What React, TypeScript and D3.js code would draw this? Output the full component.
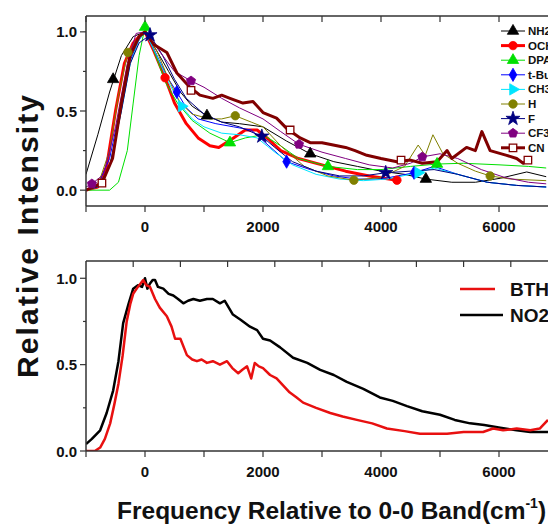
import React from "react";
import * as d3 from "d3";

// ---------- Data (top panel) ----------
const nh2X = [-1000, -800, -600, -400, -200, 0, 200, 400, 600, 800, 1050, 1300, 1600, 2000, 2400, 2800, 3200, 3600, 4000, 4400, 4760, 5200, 5600, 6020, 6470, 6800];
const nh2Y = [0.10, 0.35, 0.62, 0.85, 0.97, 1.0, 0.88, 0.75, 0.62, 0.53, 0.47, 0.43, 0.42, 0.40, 0.31, 0.23, 0.18, 0.15, 0.12, 0.10, 0.07, 0.05, 0.05, 0.075, 0.115, 0.085];
const nh2M = [[-540, 0.70], [1050, 0.47], [2800, 0.23], [4760, 0.07]];

const och3X = [-1000, -800, -650, -500, -350, -200, -100, 0, 150, 340, 500, 700, 900, 1100, 1250, 1500, 1700, 1900, 2100, 2300, 2600, 3000, 3400, 3800, 4270];
const och3Y = [0.0, 0.02, 0.15, 0.50, 0.80, 0.93, 0.97, 1.0, 0.88, 0.71, 0.55, 0.42, 0.33, 0.28, 0.27, 0.33, 0.38, 0.38, 0.32, 0.25, 0.20, 0.16, 0.12, 0.09, 0.063];
const och3M = [[340, 0.71], [4270, 0.063]];

const dpaX = [-1000, -600, -450, -300, -200, -100, 0, 150, 350, 550, 800, 1100, 1440, 1700, 2000, 2300, 2600, 3100, 3600, 4000, 4500, 4950, 5400, 6000, 6500, 6800];
const dpaY = [0.0, 0.0, 0.05, 0.25, 0.55, 0.85, 1.03, 0.88, 0.68, 0.55, 0.44, 0.36, 0.30, 0.33, 0.35, 0.28, 0.20, 0.15, 0.13, 0.13, 0.15, 0.165, 0.17, 0.16, 0.15, 0.14];
const dpaM = [[0, 1.03], [1440, 0.30], [3100, 0.15], [4950, 0.165]];

const tbuX = [-1000, -800, -600, -400, -250, -100, 0, 200, 400, 540, 700, 900, 1200, 1500, 1800, 2100, 2400, 2800, 3200, 3600, 4000, 4560, 4900, 5300, 5800, 6300, 6800];
const tbuY = [0.0, 0.03, 0.20, 0.55, 0.82, 0.95, 1.0, 0.85, 0.70, 0.62, 0.52, 0.45, 0.42, 0.40, 0.38, 0.28, 0.18, 0.13, 0.09, 0.07, 0.07, 0.11, 0.15, 0.10, 0.05, 0.03, 0.02];
const tbuM = [[540, 0.62], [2400, 0.18], [4560, 0.11]];

const ch3X = [-1000, -800, -600, -400, -250, -100, 0, 200, 400, 620, 800, 1000, 1300, 1600, 1900, 2200, 2500, 2900, 3300, 3700, 4100, 4630, 4900, 5300, 5800, 6300, 6800];
const ch3Y = [0.0, 0.02, 0.15, 0.50, 0.80, 0.95, 1.0, 0.85, 0.68, 0.53, 0.45, 0.40, 0.36, 0.35, 0.33, 0.24, 0.16, 0.10, 0.07, 0.06, 0.07, 0.11, 0.14, 0.10, 0.05, 0.03, 0.02];
const ch3M = [[620, 0.53], [4630, 0.11]];

const hX = [-1000, -800, -600, -450, -290, -100, 0, 200, 400, 600, 800, 1100, 1300, 1530, 1800, 2000, 2300, 2700, 3100, 3540, 4000, 4400, 4630, 4750, 4880, 5050, 5300, 5600, 5850, 6200, 6800];
const hY = [0.0, 0.03, 0.25, 0.60, 0.87, 0.97, 1.0, 0.88, 0.70, 0.55, 0.48, 0.45, 0.45, 0.47, 0.43, 0.40, 0.28, 0.15, 0.09, 0.063, 0.08, 0.15, 0.285, 0.22, 0.35, 0.23, 0.17, 0.12, 0.09, 0.07, 0.06];
const hM = [[-290, 0.87], [1530, 0.47], [3540, 0.063], [5850, 0.09]];

const fX = [-1000, -800, -600, -400, -250, -100, 85, 300, 500, 700, 1000, 1300, 1600, 1980, 2200, 2500, 2900, 3300, 3700, 4080, 4500, 4900, 5300, 5800, 6300, 6800];
const fY = [0.0, 0.02, 0.15, 0.50, 0.80, 0.93, 0.98, 0.85, 0.70, 0.58, 0.48, 0.43, 0.40, 0.34, 0.27, 0.18, 0.12, 0.09, 0.09, 0.11, 0.12, 0.13, 0.10, 0.05, 0.03, 0.02];
const fM = [[85, 0.98], [1980, 0.34], [4080, 0.11]];

const cf3X = [-1000, -900, -700, -500, -300, -150, 0, 200, 500, 780, 1000, 1300, 1600, 2000, 2300, 2610, 3000, 3400, 3800, 4200, 4500, 4700, 5000, 5300, 5700, 6100, 6500, 6800];
const cf3Y = [0.02, 0.04, 0.10, 0.40, 0.80, 0.99, 1.0, 0.90, 0.75, 0.69, 0.65, 0.58, 0.52, 0.45, 0.37, 0.29, 0.24, 0.20, 0.16, 0.14, 0.17, 0.21, 0.23, 0.20, 0.13, 0.08, 0.05, 0.04];
const cf3M = [[-900, 0.04], [780, 0.69], [2610, 0.29], [4700, 0.21]];

const cnX = [-1000, -730, -550, -400, -250, -100, 0, 150, 370, 540, 760, 930, 1150, 1300, 1440, 1660, 1830, 2000, 2230, 2400, 2630, 2800, 3000, 3190, 3400, 3560, 3760, 4000, 4270, 4500, 4700, 4950, 5120, 5200, 5450, 5600, 5710, 5850, 6130, 6300, 6410, 6490];
const cnY = [0.0, 0.045, 0.20, 0.55, 0.85, 0.97, 1.0, 0.92, 0.87, 0.74, 0.65, 0.60, 0.58, 0.60, 0.58, 0.55, 0.56, 0.49, 0.455, 0.39, 0.33, 0.30, 0.30, 0.285, 0.27, 0.25, 0.22, 0.20, 0.18, 0.19, 0.17, 0.18, 0.25, 0.20, 0.27, 0.25, 0.37, 0.25, 0.22, 0.20, 0.17, 0.19];
const cnM = [[-730, 0.045], [780, 0.63], [2460, 0.38], [4340, 0.19], [6490, 0.19]];

// ---------- Data (bottom panel) ----------
const no2X = [-1000, -900, -760, -650, -540, -450, -370, -280, -200, -120, -50, 0, 40, 85, 130, 170, 220, 310, 400, 480, 560, 650, 730, 820, 930, 1050, 1150, 1270, 1350, 1490, 1620, 1780, 1900, 2000, 2120, 2290, 2510, 2750, 2970, 3200, 3420, 3700, 3980, 4200, 4440, 4700, 5000, 5250, 5510, 5750, 6020, 6300, 6530, 6830];
const no2Y = [0.04, 0.07, 0.12, 0.22, 0.35, 0.52, 0.74, 0.85, 0.94, 0.96, 0.95, 1.0, 0.94, 0.97, 0.99, 0.99, 0.95, 0.94, 0.91, 0.90, 0.88, 0.855, 0.87, 0.88, 0.87, 0.88, 0.88, 0.855, 0.87, 0.79, 0.76, 0.72, 0.70, 0.65, 0.64, 0.60, 0.54, 0.51, 0.47, 0.44, 0.40, 0.36, 0.31, 0.29, 0.26, 0.23, 0.21, 0.18, 0.16, 0.15, 0.135, 0.12, 0.11, 0.11];

const bthX = [-1000, -850, -760, -680, -590, -520, -450, -380, -310, -250, -200, -120, -30, 20, 85, 170, 250, 370, 450, 510, 600, 710, 800, 880, 960, 1050, 1150, 1270, 1390, 1480, 1580, 1650, 1730, 1800, 1860, 1930, 2000, 2120, 2230, 2340, 2450, 2570, 2680, 2900, 3140, 3350, 3590, 3850, 4100, 4400, 4660, 4900, 5120, 5400, 5730, 5900, 6070, 6300, 6530, 6690, 6830];
const bthY = [0.0, 0.0, 0.02, 0.07, 0.16, 0.27, 0.39, 0.55, 0.75, 0.85, 0.91, 0.95, 0.99, 0.96, 0.95, 0.88, 0.83, 0.78, 0.72, 0.65, 0.65, 0.555, 0.53, 0.52, 0.53, 0.51, 0.52, 0.50, 0.52, 0.48, 0.45, 0.47, 0.49, 0.42, 0.51, 0.49, 0.48, 0.44, 0.42, 0.38, 0.34, 0.31, 0.28, 0.25, 0.22, 0.20, 0.18, 0.16, 0.13, 0.115, 0.10, 0.10, 0.10, 0.11, 0.11, 0.13, 0.12, 0.13, 0.12, 0.13, 0.18];

// ---------- Ticks ----------
const xTickLabels = [0, 2000, 4000, 6000];
const xMinorTicks = [-1000, 0, 1000, 2000, 3000, 4000, 5000, 6000, 7000];
const bottomTopTicks = [-200, 600, 1400, 2200, 3000, 3800, 4600, 5400, 6200];
const yMajorTicks = [0, 0.5, 1.0];
const yMinorTicks = [0.25, 0.75];

type Shape = "triUp" | "circle" | "diamond" | "triRight" | "star" | "pentagon" | "square";

const topSeries = [
  { name: "NH2", label: "NH2", xs: nh2X, ys: nh2Y, m: nh2M, color: "#000000", width: 1, shape: "triUp" as Shape, fill: "#000000" },
  { name: "OCH3", label: "OCH3", xs: och3X, ys: och3Y, m: och3M, color: "#ff0000", width: 3, shape: "circle" as Shape, fill: "#ff0000" },
  { name: "DPA", label: "DPA", xs: dpaX, ys: dpaY, m: dpaM, color: "#00e000", width: 1, shape: "triUp" as Shape, fill: "#00e000" },
  { name: "t-Bu", label: "t-Bu", xs: tbuX, ys: tbuY, m: tbuM, color: "#0000ff", width: 1, shape: "diamond" as Shape, fill: "#0000ff" },
  { name: "CH3", label: "CH3", xs: ch3X, ys: ch3Y, m: ch3M, color: "#00e5ff", width: 1, shape: "triRight" as Shape, fill: "#00e5ff" },
  { name: "H", label: "H", xs: hX, ys: hY, m: hM, color: "#808000", width: 1, shape: "circle" as Shape, fill: "#808000" },
  { name: "F", label: "F", xs: fX, ys: fY, m: fM, color: "#000080", width: 1, shape: "star" as Shape, fill: "#000080" },
  { name: "CF3", label: "CF3", xs: cf3X, ys: cf3Y, m: cf3M, color: "#800080", width: 1, shape: "pentagon" as Shape, fill: "#800080" },
  { name: "CN", label: "CN", xs: cnX, ys: cnY, m: cnM, color: "#800000", width: 3, shape: "square" as Shape, fill: "#ffffff" },
];

const W = 548;
const H = 526;
const FONT = "'Liberation Sans', Arial, Helvetica, sans-serif";

const x = d3.scaleLinear().domain([-1000, 7000]).range([86, 558]);
const yTop = d3.scaleLinear().domain([-0.1, 1.1]).range([206, 16]);
const yBot = d3.scaleLinear().domain([0, 1.1]).range([451, 261]);

function markerPath(shape: Shape, size: number): string {
  if (shape === "pentagon") {
    const r = Math.sqrt(size / 2.4);
    const pts = d3.range(5).map((i) => {
      const a = -Math.PI / 2 + (i * 2 * Math.PI) / 5;
      return [r * Math.cos(a), r * Math.sin(a)];
    });
    return "M" + pts.map((p) => p.join(",")).join("L") + "Z";
  }
  const typeMap: Record<string, d3.SymbolType> = {
    triUp: d3.symbolTriangle,
    triRight: d3.symbolTriangle,
    circle: d3.symbolCircle,
    diamond: d3.symbolDiamond,
    star: d3.symbolStar,
    square: d3.symbolSquare,
  };
  return d3.symbol().type(typeMap[shape]).size(size)() || "";
}

function Marker({ shape, cx, cy, color, fill, size }: { shape: Shape; cx: number; cy: number; color: string; fill: string; size: number }) {
  const rot = shape === "triRight" ? 90 : 0;
  const sz = shape === "diamond" ? size * 0.9 : shape === "star" ? size * 1.1 : size;
  return (
    <path
      d={markerPath(shape, sz)}
      transform={`translate(${cx},${cy}) rotate(${rot})`}
      fill={fill}
      stroke={color}
      strokeWidth={shape === "square" ? 1.3 : 0.8}
    />
  );
}

export default function App() {
  const mkLine = (xs: number[], ys: number[], ys2: d3.ScaleLinear<number, number>) =>
    d3.line<number>().x((_, i) => x(xs[i])).y((_, i) => ys2(ys[i]))(xs) || "";

  const axisColor = "#333";
  const tickFont = 15;

  const renderFrame = (yS: d3.ScaleLinear<number, number>, topTicks: number[], key: string) => {
    const [yb, yt] = yS.range();
    return (
      <g key={key}>
        <line x1={86} x2={600} y1={yt} y2={yt} stroke={axisColor} strokeWidth={1.5} />
        <line x1={86} x2={600} y1={yb} y2={yb} stroke={axisColor} strokeWidth={1.5} />
        <line x1={86} x2={86} y1={yt} y2={yb} stroke={axisColor} strokeWidth={1.5} />
        {topTicks.map((t) => (
          <line key={"tt" + t} x1={x(t)} x2={x(t)} y1={yt} y2={yt + 6} stroke={axisColor} strokeWidth={1.2} />
        ))}
        {xMinorTicks.map((t) => (
          <line key={"bt" + t} x1={x(t)} x2={x(t)} y1={yb} y2={yb + 6} stroke={axisColor} strokeWidth={1.2} />
        ))}
        {xTickLabels.map((t) => (
          <text key={"bl" + t} x={x(t)} y={yb + 26} textAnchor="middle" fontSize={tickFont} fontWeight="bold" fontFamily={FONT} fill="#111">
            {t}
          </text>
        ))}
        {yMajorTicks.map((t) => (
          <g key={"ym" + t}>
            <line x1={80} x2={86} y1={yS(t)} y2={yS(t)} stroke={axisColor} strokeWidth={1.2} />
            <text x={77} y={yS(t) + 5.5} textAnchor="end" fontSize={tickFont} fontWeight="bold" fontFamily={FONT} fill="#111">
              {t.toFixed(1)}
            </text>
          </g>
        ))}
        {yMinorTicks.map((t) => (
          <line key={"yn" + t} x1={83} x2={86} y1={yS(t)} y2={yS(t)} stroke={axisColor} strokeWidth={1.2} />
        ))}
      </g>
    );
  };

  const legendX0 = 501;
  const legendX1 = 525;
  const legendY0 = 31;
  const legendDy = 14.6;

  return (
    <svg width={W} height={H} style={{ position: "absolute", left: 0, top: 0, background: "#fff" }}>
      <defs>
        <clipPath id="clipTop">
          <rect x={86} y={16} width={520} height={190} />
        </clipPath>
        <clipPath id="clipBot">
          <rect x={86} y={261} width={520} height={190} />
        </clipPath>
      </defs>
      <rect x={0} y={0} width={W} height={H} fill="#ffffff" />

      {/* Top panel */}
      <g clipPath="url(#clipTop)">
        {topSeries.map((s) => (
          <path key={s.name} d={mkLine(s.xs, s.ys, yTop)} fill="none" stroke={s.color} strokeWidth={s.width} strokeLinejoin="round" />
        ))}
        {topSeries.map((s) =>
          s.m.map((p, i) => (
            <Marker key={s.name + i} shape={s.shape} cx={x(p[0])} cy={yTop(p[1])} color={s.color} fill={s.fill} size={56} />
          ))
        )}
      </g>
      {renderFrame(yTop, xMinorTicks, "ft")}

      {/* Top legend */}
      {topSeries.map((s, i) => {
        const yy = legendY0 + i * legendDy;
        return (
          <g key={"lg" + s.name}>
            <line x1={legendX0} x2={legendX1} y1={yy} y2={yy} stroke={s.color} strokeWidth={s.width} />
            <Marker shape={s.shape} cx={(legendX0 + legendX1) / 2} cy={yy} color={s.color} fill={s.fill} size={56} />
            <text x={528} y={yy + 4} fontSize={11.5} fontWeight="bold" fontFamily={FONT} fill="#111">
              {s.label}
            </text>
          </g>
        );
      })}

      {/* Bottom panel */}
      <g clipPath="url(#clipBot)">
        <path d={mkLine(no2X, no2Y, yBot)} fill="none" stroke="#000" strokeWidth={2.5} strokeLinejoin="round" />
        <path d={mkLine(bthX, bthY, yBot)} fill="none" stroke="#e81010" strokeWidth={2.5} strokeLinejoin="round" />
      </g>
      {renderFrame(yBot, bottomTopTicks, "fb")}

      {/* Bottom legend */}
      <line x1={460} x2={495} y1={289} y2={289} stroke="#e81010" strokeWidth={2.5} />
      <text x={510} y={296} fontSize={19} fontWeight="bold" fontFamily={FONT} fill="#111">BTH</text>
      <line x1={460} x2={503} y1={315} y2={315} stroke="#000" strokeWidth={2.5} />
      <text x={510} y={322} fontSize={19} fontWeight="bold" fontFamily={FONT} fill="#111">NO2</text>

      {/* Axis titles */}
      <text
        transform={`translate(38,236.5) rotate(-90)`}
        textAnchor="middle"
        fontSize={30}
        fontWeight="bold"
        fontFamily={FONT}
        fill="#111"
        textLength={283}
        lengthAdjust="spacing"
      >
        Relative Intensity
      </text>
      <text x={117} y={519} fontSize={24.5} fontWeight="bold" fontFamily={FONT} fill="#111">
        Frequency Relative to 0-0 Band(cm
        <tspan fontSize={14} dy={-11}>-1</tspan>
        <tspan dy={11}>)</tspan>
      </text>
    </svg>
  );
}
